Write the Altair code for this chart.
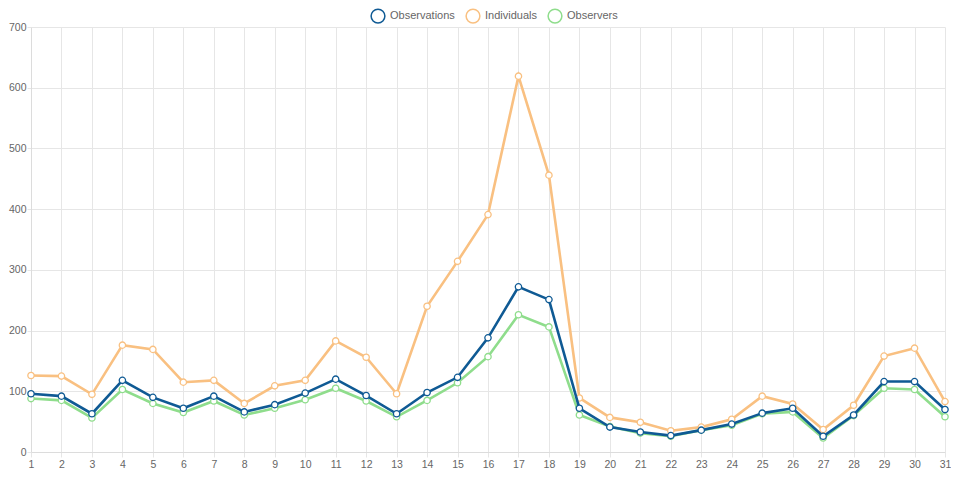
import altair as alt
import pandas as pd

days = list(range(1, 32))
observations = [96, 92, 63, 118, 90, 72, 92, 66, 78, 97,
                120, 93, 63, 98, 123, 188, 272, 251, 72, 41,
                33, 27, 36, 46, 64, 72, 26, 61, 116, 116, 70]
individuals = [126, 125, 95, 176, 169, 115, 118, 80, 109, 118,
               183, 156, 96, 240, 314, 391, 619, 456, 89, 57,
               49, 35, 41, 54, 92, 79, 37, 77, 158, 171, 83]
observers = [88, 85, 56, 103, 80, 65, 84, 61, 72, 86,
             105, 84, 58, 85, 114, 157, 226, 206, 61, 42,
             31, 26, 36, 44, 63, 66, 23, 60, 105, 103, 58]

series_names = ["Observations", "Individuals", "Observers"]
series_colors = ["#0f5a94", "#f9c081", "#8fdd8c"]

rows = []
for name, vals in zip(series_names, [observations, individuals, observers]):
    for d, v in zip(days, vals):
        rows.append({"day": d, "value": v, "series": name})
df = pd.DataFrame(rows)

color = alt.Color(
    "series:N",
    scale=alt.Scale(domain=series_names, range=series_colors),
    legend=alt.Legend(
        title=None,
        orient="none",
        direction="horizontal",
        legendX=339,
        legendY=-19,
        symbolType="circle",
        symbolSize=190,
        symbolStrokeWidth=1.5,
        symbolFillColor="white",
        labelColor="#666666",
        labelFontSize=11,
        labelFont="Liberation Sans",
        columnPadding=8,
        labelOffset=4,
    ),
)

x = alt.X(
    "day:Q",
    scale=alt.Scale(domain=[1, 31], nice=False, zero=False),
    axis=alt.Axis(values=days, title=None, format="d", labelFlush=False),
)
y = alt.Y(
    "value:Q",
    scale=alt.Scale(domain=[0, 700], nice=False),
    axis=alt.Axis(values=[0, 100, 200, 300, 400, 500, 600, 700], title=None),
)

layers = []
for name in ["Observers", "Individuals", "Observations"]:
    base = alt.Chart(df).transform_filter(alt.datum.series == name)
    line = base.mark_line(strokeWidth=2.6).encode(x=x, y=y, color=color)
    pts = base.mark_point(filled=False, fill="white", size=40,
                          strokeWidth=1.3, opacity=1).encode(x=x, y=y, color=color)
    layers += [line, pts]

chart = alt.layer(*layers).properties(
    width=914, height=425, padding=0
).configure_view(stroke=None).configure_axis(
    gridColor="#e6e6e6",
    domainColor="#dcdcdc",
    tickColor="#e6e6e6",
    labelColor="#666666",
    labelFontSize=10.5,
    labelFont="Liberation Sans",
).configure_axisY(
    tickSize=4,
    labelPadding=1,
).configure_axisX(
    tickSize=5,
    labelPadding=2,
)

chart.save("out.html", embed_options={"renderer": "svg", "actions": False})
